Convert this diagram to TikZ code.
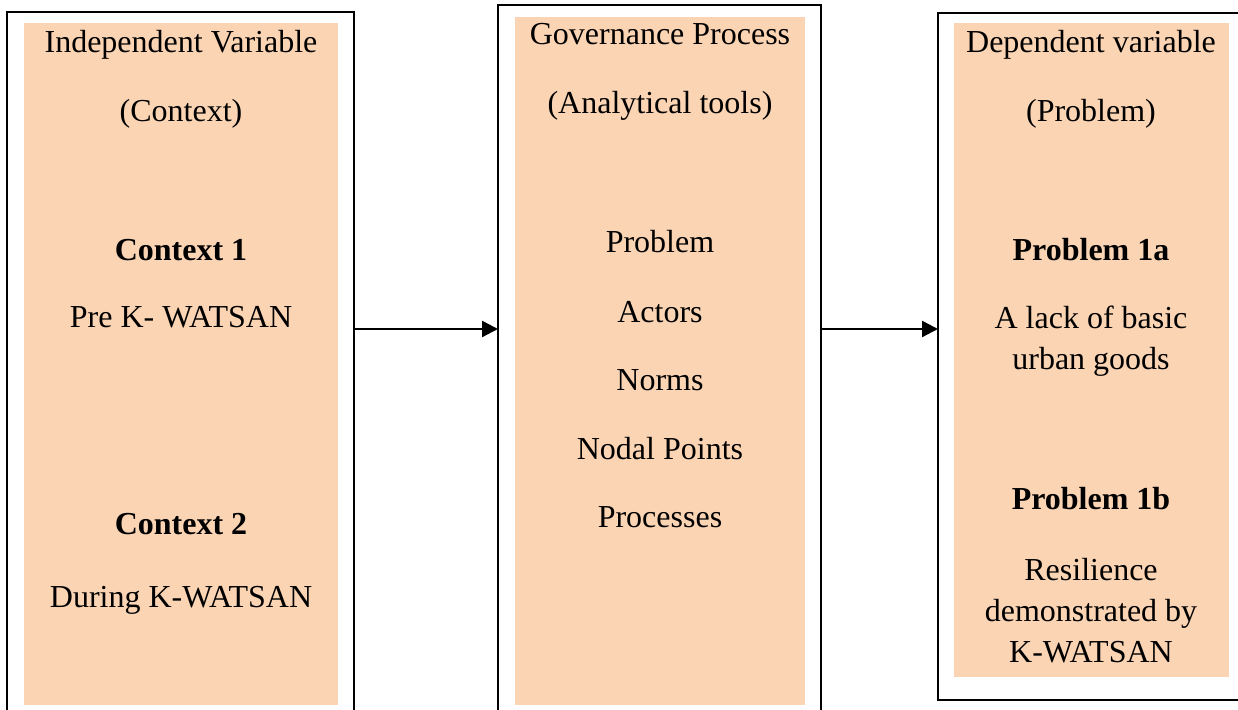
\documentclass[tikz,border=0pt]{standalone}
\usepackage{fontspec}
\setmainfont{Liberation Serif}
\usetikzlibrary{fit,arrows.meta}
\definecolor{peach}{HTML}{FBD4B4}

\begin{document}
\begin{tikzpicture}[x=0.5pt,y=-0.5pt,
    frame/.style={draw, line width=1pt, inner sep=0pt, outer sep=0pt},
    panel/.style={fill=peach, inner sep=0pt},
    txt/.style={anchor=base, inner sep=0pt, align=center,
      font=\fontsize{16}{20.5}\selectfont},
    hd/.style={txt, font=\fontsize{16}{20.5}\selectfont\bfseries},
    arr/.style={-{Triangle[length=8pt,width=8pt]}, line width=1.2pt}]
  \useasboundingbox (0,0) rectangle (1238,710);
  \clip (0,0) rectangle (1238,710);

  % frames
  \node[frame, fit={(7,12) (354,740)}] (indep) {};
  \node[frame, fit={(498,5) (821,740)}] (gov) {};
  \node[frame, fit={(938,13) (1250,700)}] (dep) {};

  \node[panel, fit={(24,23) (338,705)}] (indep-p) {};
  \node[panel, fit={(515,17) (805,705)}] (gov-p) {};
  \node[panel, fit={(954,23) (1229,677)}] (dep-p) {};

  % independent variable
  \path
  (181,53) node[txt] (ivar) {Independent Variable}
  (181,122) node[txt] (ctx) {(Context)}
  (181,261) node[hd] (ctx1) {Context 1}
  (181,328) node[txt] (pre) {Pre K- WATSAN}
  (181,535) node[hd] (ctx2) {Context 2}
  (181,608) node[txt] (during) {During K-WATSAN};

  % governance process
  \path
  (660,45) node[txt] (gproc) {Governance Process}
  (660,114) node[txt] (tools) {(Analytical tools)}
  (660,253) node[txt] (prob) {Problem}
  (660,323) node[txt] (actors) {Actors}
  (660,391) node[txt] (norms) {Norms}
  (660,460) node[txt] (nodal) {Nodal Points}
  (660,528) node[txt] (procs) {Processes};

  % dependent variable (multi-line nodes sit on their last baseline)
  \path
  (1091,53) node[txt] (dvar) {Dependent variable}
  (1091,122) node[txt] (pbm) {(Problem)}
  (1091,261) node[hd] (p1a) {Problem 1a}
  (1091,370) node[txt] (lack) {A lack of basic\\urban goods}
  (1091,510) node[hd] (p1b) {Problem 1b}
  (1091,663) node[txt] (resil) {Resilience\\demonstrated by\\K-WATSAN};

  % arrows
  \coordinate (lvl) at (0,329);
  \draw[arr] (indep.east |- lvl) -- (gov.west |- lvl);
  \draw[arr] (gov.east |- lvl) -- (dep.west |- lvl);
\end{tikzpicture}
\end{document}
